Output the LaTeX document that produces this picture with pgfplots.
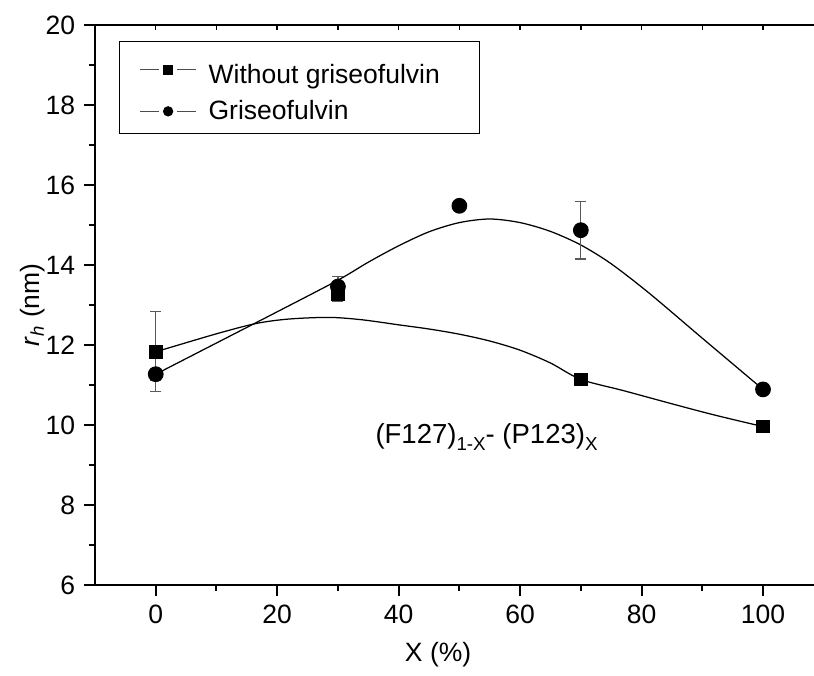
\documentclass[border=0pt]{standalone}
\usepackage{pgfplots}
\pgfplotsset{compat=1.18}
\usepackage{fontspec}
\setmainfont{Liberation Sans}

\begin{document}
\begin{tikzpicture}[font=\fontsize{10.6}{12.7}\selectfont]
% page = 814x675 px at 0.4pt per px, axis corner at (95,585) px
% the axis runs on past the right edge of the page, as in the original
\begin{axis}[
  at={(0pt,0pt)}, anchor=south west,
  scale only axis, width=291.5pt, height=224pt,
  xmin=-10, xmax=110, ymin=6, ymax=20,
  axis x line*=box, axis y line*=left,
  axis line style={-, line width=0.8pt},
  xtick={0,20,...,100}, ytick={6,8,...,20},
  minor x tick num=1, minor y tick num=1,
  xtick pos=left, ytick pos=left,
  tick align=outside,
  major tick length=4.4pt, minor tick length=2.2pt,
  every tick/.style={black, line width=0.8pt},
  /pgf/number format/assume math mode=true,
  tick label style={font=\fontsize{10.6}{12.7}\selectfont},
  xlabel={X (\%)},
  ylabel={\textit{r}\textsubscript{\textit{h}} (nm)},
  every axis x label/.style={at={(axis cs:46.5,6)}, anchor=center, yshift=-28pt},
  every axis y label/.style={at={(rel axis cs:0,0.5)}, anchor=center, xshift=-24.8pt, rotate=90},
  legend style={at={(rel axis cs:0,1)}, anchor=north west, xshift=9.6pt, yshift=-6.3pt,
    draw=black, line width=0.5pt, inner xsep=8pt, inner ysep=4.2pt,
    row sep=4.9pt, column sep=4.8pt, nodes={inner sep=0pt},
    font=\fontsize{10.6}{12.7}\selectfont},
  legend cell align=left,
  legend image code/.code={
    \draw[black!70, line width=0.4pt] (0pt,0pt) -- (7.6pt,0pt) (14.8pt,0pt) -- (22.4pt,0pt);
    \draw[#1, mark size=1.8pt] plot coordinates {(11.2pt,0pt)};
  },
]

% fitted curves
\addplot[black, line width=0.5pt, smooth, forget plot] coordinates {
(0,11.83)(10,12.28)(16.6,12.54)(22,12.65)(28.6,12.69)(34,12.63)(40.2,12.5)
(45,12.4)(50,12.27)(55,12.1)(60,11.87)(65,11.55)(70,11.14)(77,10.86)(85,10.53)(92,10.25)(100,9.96)};
\addplot[black, line width=0.5pt, smooth, forget plot] coordinates {
(0,11.27)(10,12.05)(20,12.83)(30,13.62)(35,14.07)(40,14.48)(45,14.83)(50,15.06)
(55,15.15)(60,15.06)(65,14.84)(70,14.5)(75,14.03)(81.3,13.29)(90,12.17)(100,10.89)};

% measured points
\addplot[only marks, mark=square*, mark size=2.55pt, black,
  error bars/.cd, y dir=both, y explicit,
  error bar style={black!65, line width=0.5pt},
  error mark options={rotate=90, mark size=2.2pt, black!65, line width=0.5pt}]
  coordinates {(0,11.83) +- (0,1.0) (30,13.28) +- (0,0.2) (70,11.14) +- (0,0) (100,9.96) +- (0,0)};
\addlegendentry{\rule{0pt}{12.8pt}Without griseofulvin\hspace*{7.9pt}}

\addplot[only marks, mark=*, mark size=2.95pt, black,
  error bars/.cd, y dir=both, y explicit,
  error bar style={black!65, line width=0.5pt},
  error mark options={rotate=90, mark size=2.2pt, black!65, line width=0.5pt}]
  coordinates {(0,11.27) +- (0,0.15) (30,13.46) +- (0,0.26) (50,15.48) +- (0,0) (70,14.87) +- (0,0.72) (100,10.89) +- (0,0)};
\addlegendentry{Griseofulvin}

\node[anchor=base west, font=\fontsize{11}{13}\selectfont] at (axis cs:34.74,9.54)
  {(F127)\raisebox{-3pt}{\fontsize{7.5}{9}\selectfont 1-X}- (P123)\raisebox{-3pt}{\fontsize{7.5}{9}\selectfont X}};
\end{axis}

% small inward ticks on the top line
\begin{axis}[
  at={(0pt,0pt)}, anchor=south west,
  scale only axis, width=291.5pt, height=224pt,
  xmin=-10, xmax=110, ymin=6, ymax=20,
  axis x line*=top, axis y line=none,
  axis line style={-, line width=0.8pt},
  xtick={0,10,...,100}, xticklabels={}, ytick=\empty,
  tick align=inside, major tick length=2pt,
  every tick/.style={black, line width=0.6pt},
]
\end{axis}

\pgfresetboundingbox
\path[use as bounding box] (-38pt,-36pt) rectangle (287.6pt,234pt);
\end{tikzpicture}
\end{document}
